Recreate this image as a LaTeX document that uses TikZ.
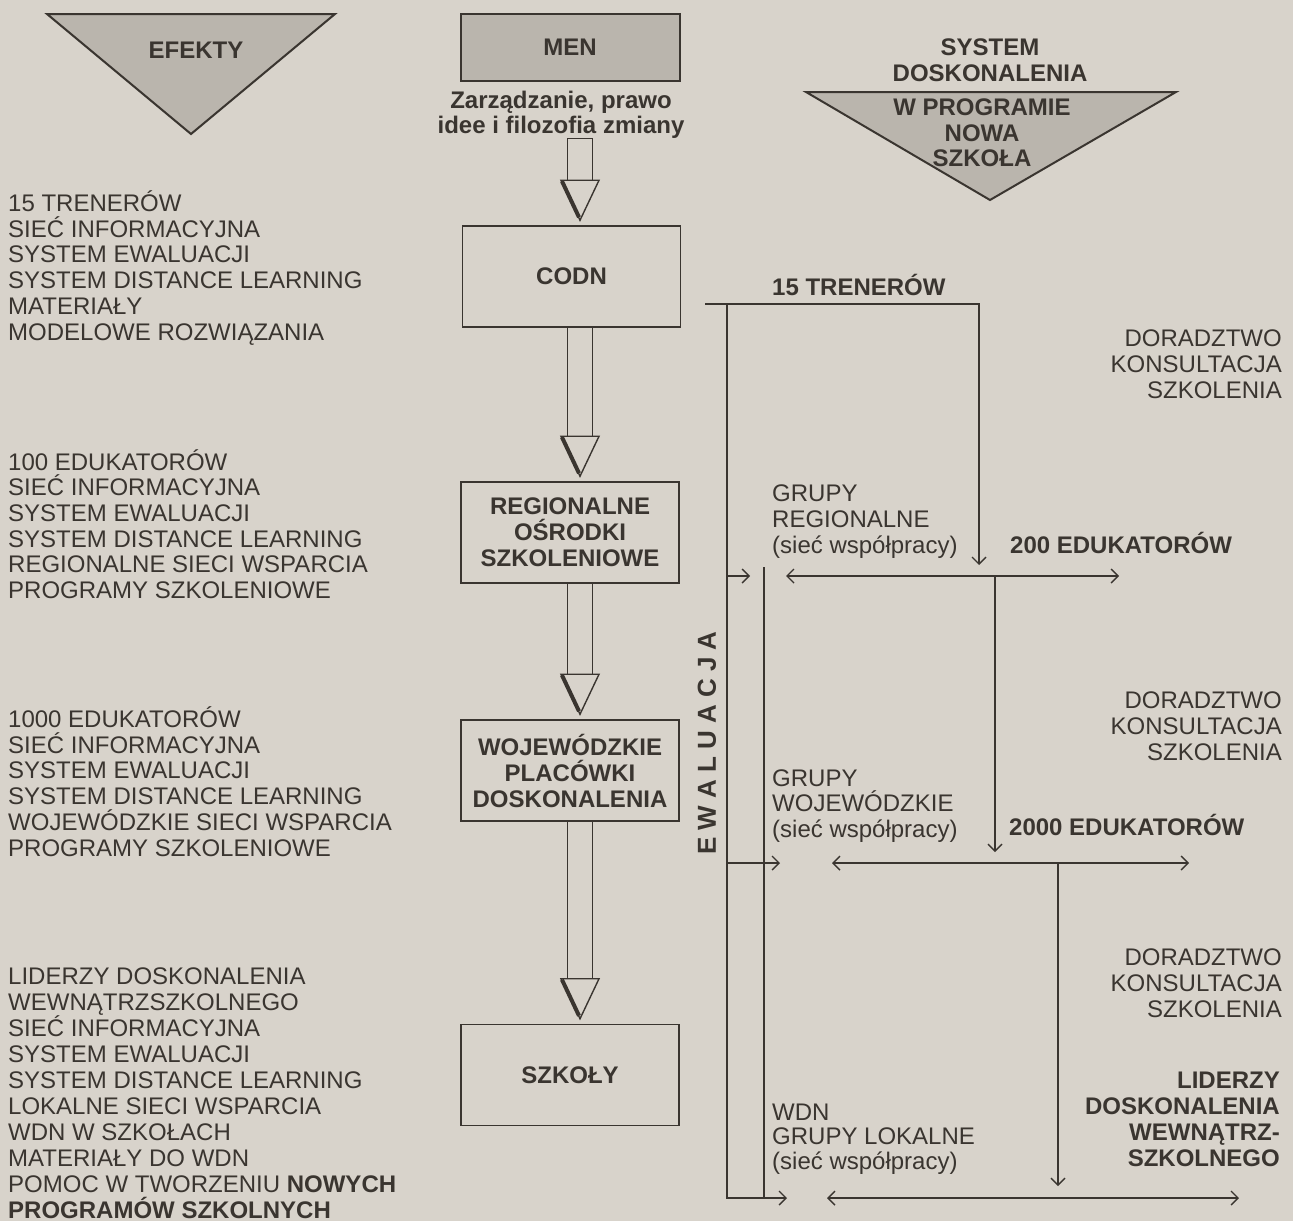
\documentclass[tikz,border=0pt]{standalone}
\usepackage{fontspec}
\setmainfont{Liberation Sans}
\usetikzlibrary{arrows.meta,calc,positioning}
\definecolor{paper}{RGB}{216,211,203}
\definecolor{shade}{RGB}{186,181,173}
\definecolor{ink}{RGB}{58,53,48}

% hollow block arrow from the bottom of one node to the top of the next
\newcommand{\blockarrow}[2]{%
  \coordinate (ba-top) at (#1.south -| axis);
  \coordinate (ba-tip) at ($(#2.north -| axis)+(0,-5)$);
  \draw[ink,line width=1.4pt] ($(ba-top)+(-12.5,0)$) rectangle ($(ba-tip)+(12.5,-40)$);
  \filldraw[ink,fill=paper,line width=1.4pt,line join=miter] ($(ba-tip)+(-19,-40)$) -- ($(ba-tip)+(19,-40)$) -- (ba-tip) -- cycle;
  \draw[ink,line width=4pt] ($(ba-tip)+(-18,-39)$) -- ($(ba-tip)+(-1,-3)$);
}

\begin{document}
\begin{tikzpicture}[x=1pt,y=-1pt,
    every node/.style={font=\fontsize{24}{25.7}\selectfont,text=ink,inner sep=0pt},
    unit/.style={draw=ink,line width=1.5pt,minimum width=218pt,minimum height=101pt,align=center,font=\fontsize{24}{26}\selectfont\bfseries},
    net/.style={draw=ink,line width=1.5pt},
    tip/.style={-{Straight Barb[length=7pt,width=14pt,line width=1.4pt]}},
    both/.style={{Straight Barb[length=7pt,width=14pt,line width=1.4pt]}-{Straight Barb[length=7pt,width=14pt,line width=1.4pt]},line width=2.4pt}]
  \fill[paper] (0,0) rectangle (1293,1221);
  \useasboundingbox (0,0) rectangle (1293,1221);
  \coordinate (axis) at (580,0);

  % headers (multi-line nodes sit on the baseline of their last line)
  \filldraw[ink,fill=shade,line width=2pt,line join=miter] (47,14) -- (335,14) -- (191,134) -- cycle;
  \node (efekty) at (196,50) {\bfseries EFEKTY};
  \node[draw=ink,fill=shade,line width=2pt,minimum width=219pt,minimum height=67pt] (men) at (570,47.5) {\bfseries MEN};
  \node[anchor=base,align=center,font=\fontsize{24}{25}\selectfont\bfseries] (zarz) at (561,133.5) {Zarządzanie, prawo\\idee i filozofia zmiany};
  \filldraw[ink,fill=shade,line width=2pt,line join=miter] (806,92) -- (1176,92) -- (990,200) -- cycle;
  \node[anchor=base,align=center,font=\fontsize{24}{26}\selectfont\bfseries] (sys) at (990,81.5) {SYSTEM\\DOSKONALENIA};
  \node[anchor=base,align=center,font=\fontsize{24}{25.5}\selectfont\bfseries] (nowa) at (982,166.5) {W PROGRAMIE\\NOWA\\SZKOŁA};

  % levels
  \node[unit] (codn) at (571.5,276.5) {CODN};
  \node[unit] (ros) at (570,532.5) {\raisebox{-3pt}{}REGIONALNE\\OŚRODKI\\SZKOLENIOWE};
  \node[unit] (wpd) at (570,770.5) {WOJEWÓDZKIE\\PLACÓWKI\\DOSKONALENIA};
  \node[unit] (szkoly) at (570,1075) {SZKOŁY};
  \blockarrow{zarz}{codn}
  \blockarrow{codn}{ros}
  \blockarrow{ros}{wpd}
  \blockarrow{wpd}{szkoly}

  % effects
  \node[anchor=base west,align=left] (ef-codn) at (8,340) {15 TRENERÓW\\SIEĆ INFORMACYJNA\\SYSTEM EWALUACJI\\SYSTEM DISTANCE LEARNING\\MATERIAŁY\\MODELOWE ROZWIĄZANIA};
  \node[anchor=base west,align=left] (ef-ros) at (8,598.5) {100 EDUKATORÓW\\SIEĆ INFORMACYJNA\\SYSTEM EWALUACJI\\SYSTEM DISTANCE LEARNING\\REGIONALNE SIECI WSPARCIA\\PROGRAMY SZKOLENIOWE};
  \node[anchor=base west,align=left] (ef-wpd) at (8,856) {1000 EDUKATORÓW\\SIEĆ INFORMACYJNA\\SYSTEM EWALUACJI\\SYSTEM DISTANCE LEARNING\\WOJEWÓDZKIE SIECI WSPARCIA\\PROGRAMY SZKOLENIOWE};
  \node[anchor=base west,align=left,font=\fontsize{24}{25.9}\selectfont] (ef-szk) at (8,1218) {LIDERZY DOSKONALENIA\\WEWNĄTRZSZKOLNEGO\\SIEĆ INFORMACYJNA\\SYSTEM EWALUACJI\\SYSTEM DISTANCE LEARNING\\LOKALNE SIECI WSPARCIA\\WDN W SZKOŁACH\\MATERIAŁY DO WDN\\POMOC W TWORZENIU \textbf{NOWYCH}\\\textbf{PROGRAMÓW SZKOLNYCH}};

  % system network
  \node[anchor=base west] (tren) at (772,295.5) {\bfseries 15 TRENERÓW};
  \node[anchor=base west] (edu200) at (1010,553.5) {\bfseries 200 EDUKATORÓW};
  \node[anchor=base west] (edu2000) at (1009,835.5) {\bfseries 2000 EDUKATORÓW};
  \node[anchor=base west,align=left] (gr-reg) at (772,553) {GRUPY\\REGIONALNE\\(sieć współpracy)};
  \node[anchor=base west,align=left] (gr-woj) at (772,837.5) {GRUPY\\WOJEWÓDZKIE\\(sieć współpracy)};
  \node[anchor=base west,align=left,font=\fontsize{24}{24.5}\selectfont] (gr-lok) at (772,1169) {WDN\\GRUPY LOKALNE\\(sieć współpracy)};
  \node[anchor=base east,align=right] (dk1) at (1282,398) {DORADZTWO\\KONSULTACJA\\SZKOLENIA};
  \node[anchor=base east,align=right] (dk2) at (1282,760) {DORADZTWO\\KONSULTACJA\\SZKOLENIA};
  \node[anchor=base east,align=right] (dk3) at (1282,1017) {DORADZTWO\\KONSULTACJA\\SZKOLENIA};
  \node[anchor=base east,align=right,font=\fontsize{24}{26}\selectfont\bfseries] (lid) at (1280,1166.5) {LIDERZY\\DOSKONALENIA\\WEWNĄTRZ-\\SZKOLNEGO};
  \node[rotate=90,font=\fontsize{26}{28}\selectfont\bfseries] (ewal) at (707,743) {E\kern7.1pt W\kern7.1pt A\kern7.1pt L\kern7.1pt U\kern7.1pt A\kern7.1pt C\kern7.1pt J\kern7.1pt A};

  \coordinate (top-l) at (705,304);
  \coordinate (top-r) at (979,304);
  \coordinate (in-reg) at (979,565);
  \coordinate (ev-top) at (727,304);
  \coordinate (ev-bot) at (727,1198);
  \coordinate (in-top) at (764,567);
  \coordinate (in-bot) at (764,1198);
  \coordinate (reg-a) at (786,576);
  \coordinate (reg-b) at (1119,576);
  \coordinate (reg-m) at (995,576);
  \coordinate (in-woj) at (995,852);
  \coordinate (woj-a) at (832,863);
  \coordinate (woj-b) at (1189,863);
  \coordinate (woj-m) at (1058,863);
  \coordinate (in-lok) at (1058,1186);
  \coordinate (lok-a) at (827,1198);
  \coordinate (lok-b) at (1239,1198);

  \draw[net,tip] (top-l) -- (top-r) -- (in-reg);
  \draw[net] (ev-top) -- (ev-bot) -- (in-bot) -- (in-top);
  \draw[net,tip] (ev-top |- reg-m) -- ++(23,0);
  \draw[net,tip] (ev-top |- woj-m) -- ++(53,0);
  \draw[net,tip] (in-bot) -- ++(23,0);
  \draw[net,both] (reg-a) -- (reg-b);
  \draw[net,tip] (reg-m) -- (in-woj);
  \draw[net,both] (woj-a) -- (woj-b);
  \draw[net,tip] (woj-m) -- (in-lok);
  \draw[net,both] (lok-a) -- (lok-b);
\end{tikzpicture}
\end{document}
